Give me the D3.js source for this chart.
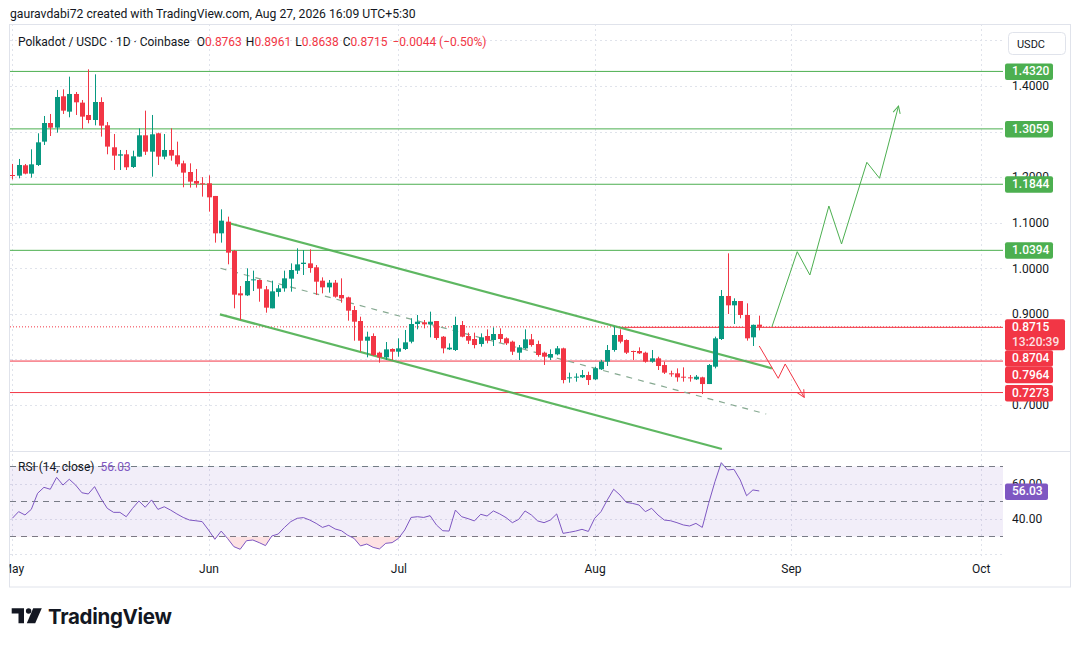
<!DOCTYPE html>
<html lang="en">
<head>
<meta charset="utf-8">
<title>Polkadot / USDC - 1D</title>
<script src="https://cdn.jsdelivr.net/npm/d3@7"></script>
<style>
  body { margin: 0; background: #fff; }
  svg { display: block; font-family: Roboto, "Liberation Sans", sans-serif; }
</style>
</head>
<body>
<svg id="svg" width="1080" height="647"></svg>
<script>

// ---------------------------------------------------- data (daily candles from May 1)
var startDay = Date.UTC(2026, 4, 1);

var open = [1.2047,1.2033,1.2260,1.2077,1.2267,1.2779,1.3188,1.3086,1.3774,1.3437,1.3825,1.3635,1.3364,1.3254,1.3649,1.3137,1.2655,1.2472,1.2501,1.2223,
  1.2450,1.2918,1.2559,1.2962,1.2450,1.2596,1.2479,1.2303,1.2113,1.1916,1.1865,1.1865,1.1587,1.0767,1.1023,1.0380,0.9450,0.9406,0.9735,0.9743,
  0.9538,0.9121,0.9479,0.9560,0.9772,0.9948,1.0094,1.0108,1.0021,0.9728,0.9582,0.9684,0.9414,0.9362,0.9084,0.8843,0.8411,0.8514,0.8148,0.8046,
  0.8229,0.8170,0.8229,0.8389,0.8777,0.8814,0.8770,0.8843,0.8499,0.8221,0.8207,0.8755,0.8514,0.8448,0.8338,0.8514,0.8426,0.8558,0.8463,0.8390,
  0.8148,0.8243,0.8441,0.8338,0.8148,0.8039,0.8112,0.8243,0.7585,0.7600,0.7607,0.7658,0.7563,0.7783,0.7951,0.8207,0.8536,0.8426,0.8185,0.8185,
  0.8148,0.7951,0.8024,0.7877,0.7695,0.7695,0.7621,0.7607,0.7563,0.7607,0.7460,0.7841,0.8448,0.9392,0.9187,0.9282,0.8975,0.8485,0.8763];
var high = [1.2290,1.2399,1.2289,1.2611,1.2962,1.3342,1.3386,1.3913,1.3927,1.4205,1.3869,1.3693,1.4366,1.4256,1.3752,1.3210,1.2947,1.2596,1.2596,1.2581,
  1.3071,1.3459,1.3364,1.2976,1.2947,1.3071,1.2779,1.2362,1.2303,1.2179,1.2000,1.2040,1.1587,1.1294,1.1133,1.0402,0.9611,0.9999,0.9948,0.9757,
  0.9611,0.9728,0.9633,0.9948,1.0108,1.0438,1.0401,1.0416,1.0072,0.9801,0.9743,0.9743,0.9779,0.9377,0.9172,0.8938,0.8609,0.8572,0.8170,0.8382,
  0.8243,0.8463,0.8646,0.8902,0.8975,0.8865,0.9048,0.8843,0.8514,0.8353,0.8938,0.8843,0.8587,0.8587,0.8572,0.8660,0.8704,0.8682,0.8485,0.8412,
  0.8316,0.8660,0.8558,0.8412,0.8170,0.8221,0.8294,0.8258,0.7710,0.7695,0.7768,0.7731,0.7841,0.7987,0.8316,0.8719,0.8660,0.8441,0.8192,0.8265,
  0.8170,0.8207,0.8060,0.7951,0.7753,0.7804,0.7826,0.7658,0.7658,0.7621,0.7899,0.8500,0.9523,1.0328,0.9341,0.9282,0.9231,0.8765,0.8961];
var low = [1.1950,1.1974,1.2062,1.1989,1.2245,1.2706,1.2903,1.2976,1.3386,1.3313,1.3364,1.3057,1.3181,1.3137,1.2889,1.2501,1.2157,1.2157,1.2157,1.2201,
  1.2450,1.2486,1.2011,1.2267,1.2391,1.2362,1.2230,1.1777,1.1770,1.1770,1.1572,1.1243,1.0563,1.0563,1.0087,0.9121,0.8865,0.9391,0.9501,0.9267,
  0.9026,0.9121,0.9377,0.9487,0.9487,0.9874,0.9853,0.9903,0.9414,0.9450,0.9465,0.9355,0.9245,0.8850,0.8411,0.8170,0.8046,0.8075,0.7929,0.7987,
  0.7987,0.8060,0.8207,0.8353,0.8660,0.8682,0.8484,0.8430,0.8134,0.8207,0.8185,0.8485,0.8338,0.8243,0.8280,0.8353,0.8295,0.8368,0.8316,0.8097,
  0.7987,0.8221,0.8280,0.8060,0.7878,0.7987,0.8090,0.7475,0.7490,0.7512,0.7592,0.7439,0.7548,0.7768,0.7856,0.8170,0.8353,0.8119,0.7987,0.8119,
  0.7929,0.7929,0.7768,0.7680,0.7621,0.7512,0.7512,0.7512,0.7548,0.7241,0.7460,0.7804,0.8426,0.8997,0.8777,0.8902,0.8412,0.8295,0.8638];
var close = [1.2040,1.2267,1.2077,1.2281,1.2764,1.3188,1.3086,1.3759,1.3459,1.3825,1.3642,1.3328,1.3254,1.3649,1.3130,1.2670,1.2472,1.2501,1.2216,1.2457,
  1.2918,1.2559,1.2940,1.2450,1.2596,1.2472,1.2281,1.2099,1.1901,1.1857,1.1843,1.1557,1.0767,1.1045,1.0343,0.9421,0.9406,0.9721,0.9757,0.9553,
  0.9136,0.9494,0.9560,0.9779,0.9962,1.0086,1.0123,1.0006,0.9706,0.9582,0.9684,0.9377,0.9340,0.9070,0.8828,0.8411,0.8499,0.8097,0.8046,0.8221,
  0.8170,0.8243,0.8375,0.8777,0.8828,0.8770,0.8828,0.8470,0.8243,0.8258,0.8755,0.8499,0.8412,0.8316,0.8485,0.8412,0.8558,0.8448,0.8353,0.8170,
  0.8265,0.8441,0.8316,0.8097,0.8060,0.8119,0.8243,0.7548,0.7607,0.7622,0.7658,0.7548,0.7805,0.7951,0.8207,0.8536,0.8390,0.8148,0.8163,0.8134,
  0.7951,0.8024,0.7856,0.7710,0.7680,0.7607,0.7600,0.7592,0.7621,0.7460,0.7877,0.8463,0.9392,0.9187,0.9282,0.8975,0.8463,0.8759,0.8715];

// - RSI (14, close), one value per candle
var rsi = [40.4,44.2,42.3,45.5,54.7,58.1,57.0,63.8,59.4,62.7,59.4,55.0,54.3,58.5,51.8,46.1,43.8,43.8,41.3,46.1,
  50.3,46.7,50.9,45.5,47.0,45.1,42.9,40.9,39.4,39.0,38.5,33.7,28.4,33.1,28.9,24.2,22.7,27.6,28.0,26.5,
  24.8,30.3,31.4,35.2,38.5,40.4,40.8,39.4,37.5,35.2,36.4,34.3,33.3,30.7,28.9,24.6,25.7,23.8,22.9,26.1,
  26.5,28.9,33.7,40.9,41.3,40.9,41.9,36.6,33.3,33.1,45.1,41.3,40.2,38.9,42.7,41.7,44.6,42.9,40.8,37.9,
  39.8,44.6,42.3,38.9,37.9,39.4,42.9,31.8,32.4,33.1,34.1,32.9,40.4,44.2,50.9,57.0,53.7,49.5,48.9,48.0,
  44.2,46.1,42.3,39.4,39.0,37.9,36.6,36.0,37.5,35.2,48.9,61.3,72.2,68.0,68.4,62.3,53.3,56.6,56.03];

// - horizontal levels drawn on the chart
var greenLevels = [1.4320, 1.3059, 1.1844, 1.0394];
var redLevels = [0.7964, 0.7273];
var lastPrice = 0.8715;
var breakLevel = 0.8704, breakFromDay = 96;
var countdown = "13:20:39";

// - channel drawn by hand: [day, price] pairs
var channelUpper = [[34.0, 1.1000], [120.0, 0.7805]];
var channelLower = [[32.8, 0.8990], [112.1, 0.6034]];
var channelMid = [[32.9, 1.0000], [119.1, 0.6802]];

// - projected paths
var bullDays = [120, 124, 126, 129, 131, 135, 137, 140];
var bullPrices = [0.8715, 1.0364, 0.9853, 1.1367, 1.0533, 1.2326, 1.1975, 1.3561];
var bearDays = [118, 121, 122.1, 125.1];
var bearPrices = [0.8295, 0.7586, 0.7900, 0.7169];

// - axes (1.3000 and 0.8000 sit fully under the level tags, so they are not printed)
var priceTicks = [0.6, 0.7, 0.8, 0.9, 1.0, 1.1, 1.2, 1.3, 1.4, 1.5];
var priceLabels = [0.7, 0.9, 1.0, 1.1, 1.2, 1.4];
var rsiTicks = [40, 60];
var rsiBands = [70, 50, 30];
var monthTicks = [Date.UTC(2026,4,1), Date.UTC(2026,5,1), Date.UTC(2026,6,1), Date.UTC(2026,7,1), Date.UTC(2026,8,1), Date.UTC(2026,9,1)];

// ---------------------------------------------------- layout
var L = 10, R = 1003, mainTop = 24, mainBot = 451, rsiBot = 556, frameBot = 587;
var GREEN = "#089981", RED = "#f23645", LINE_GREEN = "#4caf50", PURPLE = "#7e57c2", TXT = "#131722", GRID = "#e0e3eb";

var svg = d3.select("svg#svg");

function dayDate(d) { return new Date(startDay + d * 864e5); }

var x = d3.scaleUtc()
    .domain([new Date(Date.UTC(2026, 4, 1)), new Date(Date.UTC(2026, 9, 1))])
    .range([12.3, 980.8]);
var y = d3.scaleLinear().domain([0.7, 1.4]).range([405, 86]);
var yr = d3.scaleLinear().domain([30, 70]).range([536.5, 466.5]);

var defs = svg.append("defs");
defs.append("clipPath").attr("id", "clipMain").append("rect")
    .attr("x", L).attr("y", mainTop).attr("width", R - L).attr("height", mainBot - mainTop);
defs.append("clipPath").attr("id", "clipRsi").append("rect")
    .attr("x", L).attr("y", mainBot).attr("width", R - L).attr("height", rsiBot - mainBot);
defs.append("clipPath").attr("id", "clipLow").append("rect")
    .attr("x", L).attr("y", yr(30)).attr("width", R - L).attr("height", rsiBot - yr(30));
defs.append("clipPath").attr("id", "clipHigh").append("rect")
    .attr("x", L).attr("y", mainBot).attr("width", R - L).attr("height", yr(70) - mainBot);
defs.append("clipPath").attr("id", "clipAxis").append("rect")
    .attr("x", 9.5).attr("y", rsiBot).attr("width", 1060).attr("height", frameBot - rsiBot);

[["arrG", LINE_GREEN], ["arrR", RED]].forEach(function (m) {
    defs.append("marker").attr("id", m[0]).attr("viewBox", "0 0 10 10")
        .attr("refX", 9).attr("refY", 5).attr("markerWidth", 9).attr("markerHeight", 9)
        .attr("markerUnits", "userSpaceOnUse").attr("orient", "auto")
        .append("path").attr("d", "M1,1 L9,5 L1,9").attr("fill", "none").attr("stroke", m[1]).attr("stroke-width", 1.1);
});

// - header
svg.append("text").attr("x", 10).attr("y", 18).attr("font-size", 12.2).attr("fill", TXT)
    .text("gauravdabi72 created with TradingView.com, Aug 27, 2026 16:09 UTC+5:30");

// - frame
svg.append("rect").attr("x", 9.5).attr("y", mainTop + 0.5).attr("width", 1061).attr("height", frameBot - mainTop - 0.5)
    .attr("fill", "none").attr("stroke", GRID);
svg.append("line").attr("x1", 9.5).attr("x2", 1070.5).attr("y1", mainBot + 0.5).attr("y2", mainBot + 0.5).attr("stroke", GRID);

// ---------------------------------------------------- grid
var grid = svg.append("g");
grid.selectAll("line.h").data(priceTicks).enter().append("line")
    .attr("x1", L).attr("x2", R).attr("y1", function (d) { return Math.round(y(d)) + 0.5; })
    .attr("y2", function (d) { return Math.round(y(d)) + 0.5; })
    .attr("stroke", GRID).attr("stroke-dasharray", "2,3")
    .attr("clip-path", "url(#clipMain)");
grid.selectAll("line.r").data([20, 40, 60, 80]).enter().append("line")
    .attr("x1", L).attr("x2", R).attr("y1", function (d) { return Math.round(yr(d)) + 0.5; })
    .attr("y2", function (d) { return Math.round(yr(d)) + 0.5; })
    .attr("stroke", GRID).attr("stroke-dasharray", "2,3")
    .attr("clip-path", "url(#clipRsi)");
grid.selectAll("line.v").data(monthTicks).enter().append("line")
    .attr("x1", function (d) { return Math.round(x(new Date(d))) + 0.5; })
    .attr("x2", function (d) { return Math.round(x(new Date(d))) + 0.5; })
    .attr("y1", mainTop).attr("y2", rsiBot)
    .attr("stroke", GRID).attr("stroke-dasharray", "2,3");

// ---------------------------------------------------- main pane drawings
var main = svg.append("g").attr("clip-path", "url(#clipMain)");

main.selectAll("line.lvlg").data(greenLevels).enter().append("line")
    .attr("x1", L).attr("x2", R).attr("y1", function (d) { return y(d); }).attr("y2", function (d) { return y(d); })
    .attr("stroke", LINE_GREEN).attr("stroke-width", 1);
main.selectAll("line.lvlr").data(redLevels).enter().append("line")
    .attr("x1", L).attr("x2", R).attr("y1", function (d) { return y(d); }).attr("y2", function (d) { return y(d); })
    .attr("stroke", RED).attr("stroke-width", 1);
main.append("line")
    .attr("x1", x(dayDate(breakFromDay))).attr("x2", R).attr("y1", y(breakLevel)).attr("y2", y(breakLevel))
    .attr("stroke", RED).attr("stroke-width", 1);
main.append("line")
    .attr("x1", L).attr("x2", R).attr("y1", y(lastPrice)).attr("y2", y(lastPrice))
    .attr("stroke", RED).attr("stroke-width", 1).attr("stroke-dasharray", "1,2");

var seg = d3.line().x(function (p) { return x(dayDate(p[0])); }).y(function (p) { return y(p[1]); });
main.append("path").attr("d", seg(channelMid)).attr("fill", "none")
    .attr("stroke", "#86a991").attr("stroke-width", 1.2).attr("stroke-dasharray", "6,6");
[channelUpper, channelLower].forEach(function (c) {
    main.append("path").attr("d", seg(c)).attr("fill", "none")
        .attr("stroke", LINE_GREEN).attr("stroke-width", 2.2).attr("opacity", 0.9);
});

// - candles
var candles = main.append("g");
close.forEach(function (c, i) {
    var xc = Math.round(x(dayDate(i))) + 0.5;
    var col = c >= open[i] ? GREEN : RED;
    candles.append("line").attr("x1", xc).attr("x2", xc)
        .attr("y1", y(high[i])).attr("y2", y(low[i])).attr("stroke", col).attr("stroke-width", 1);
    var top = y(Math.max(open[i], c)), bot = y(Math.min(open[i], c));
    candles.append("rect").attr("x", xc - 2.5).attr("width", 5)
        .attr("y", top).attr("height", Math.max(1, bot - top)).attr("fill", col);
});

// - projections
var pl = d3.line().x(function (d) { return x(dayDate(d[0])); }).y(function (d) { return y(d[1]); });
main.append("path").attr("d", pl(d3.zip(bullDays, bullPrices))).attr("fill", "none")
    .attr("stroke", LINE_GREEN).attr("stroke-width", 1).attr("marker-end", "url(#arrG)");
main.append("path").attr("d", pl(d3.zip(bearDays, bearPrices))).attr("fill", "none")
    .attr("stroke", RED).attr("stroke-width", 1).attr("marker-end", "url(#arrR)");

// - legend
var leg = svg.append("text").attr("x", 18).attr("y", 46).attr("font-size", 12).attr("fill", TXT);
leg.append("tspan").text("Polkadot / USDC \u00b7 1D \u00b7 Coinbase ");
[["O", open], ["H", high], ["L", low], ["C", close]].forEach(function (k) {
    leg.append("tspan").attr("dx", 4).text(k[0]);
    leg.append("tspan").attr("fill", RED).text(k[1][k[1].length - 1].toFixed(4));
});
var chg = close[close.length - 1] - close[close.length - 2];
leg.append("tspan").attr("dx", 5).attr("fill", RED)
    .text("\u2212" + Math.abs(chg).toFixed(4) + " (\u2212" + Math.abs(chg / close[close.length - 2] * 100).toFixed(2) + "%)");

// ---------------------------------------------------- RSI pane
var rp = svg.append("g").attr("clip-path", "url(#clipRsi)");
rp.append("rect").attr("x", L).attr("width", R - L).attr("y", yr(70)).attr("height", yr(30) - yr(70))
    .attr("fill", PURPLE).attr("opacity", 0.1);
rp.selectAll("line.band").data(rsiBands).enter().append("line")
    .attr("x1", L).attr("x2", R).attr("y1", function (d) { return yr(d); }).attr("y2", function (d) { return yr(d); })
    .attr("stroke", "#787b86").attr("stroke-dasharray", "6,5").attr("stroke-width", 1);

var rx = function (d, i) { return x(dayDate(i)); };
rp.append("g").attr("clip-path", "url(#clipLow)").append("path")
    .attr("d", d3.area().x(rx).y0(yr(30)).y1(function (d) { return yr(d); })(rsi))
    .attr("fill", RED).attr("opacity", 0.15);
rp.append("g").attr("clip-path", "url(#clipHigh)").append("path")
    .attr("d", d3.area().x(rx).y0(yr(70)).y1(function (d) { return yr(d); })(rsi))
    .attr("fill", GREEN).attr("opacity", 0.2);
rp.append("path").attr("d", d3.line().x(rx).y(function (d) { return yr(d); })(rsi))
    .attr("fill", "none").attr("stroke", PURPLE).attr("stroke-width", 1);

var rl = svg.append("text").attr("x", 18).attr("y", yr(70) + 4.5).attr("font-size", 12).attr("fill", TXT);
rl.append("tspan").text("RSI (14, close)");
rl.append("tspan").attr("dx", 6).attr("fill", PURPLE).text(rsi[rsi.length - 1].toFixed(2));

// ---------------------------------------------------- axes
var yAxis = d3.axisRight(y).tickValues(priceLabels)
    .tickFormat(d3.format(".4f")).tickSize(0).tickPadding(0);
svg.append("g").attr("transform", "translate(1012,0)").call(yAxis)
    .call(function (g) { g.select(".domain").remove(); })
    .selectAll("text").attr("font-size", 12).attr("font-family", "Roboto").attr("fill", TXT);

var rAxis = d3.axisRight(yr).tickValues(rsiTicks).tickFormat(d3.format(".2f")).tickSize(0).tickPadding(0);
svg.append("g").attr("transform", "translate(1012,0)").call(rAxis)
    .call(function (g) { g.select(".domain").remove(); })
    .selectAll("text").attr("font-size", 12).attr("font-family", "Roboto").attr("fill", TXT);

var xAxis = d3.axisBottom(x).tickValues(monthTicks.map(function (d) { return new Date(d); }))
    .tickFormat(d3.utcFormat("%b")).tickSize(0).tickPadding(0);
svg.append("g").attr("clip-path", "url(#clipAxis)").append("g")
    .attr("transform", "translate(0,564)").call(xAxis)
    .call(function (g) { g.select(".domain").remove(); })
    .selectAll("text").attr("font-size", 12).attr("font-family", "Roboto").attr("fill", TXT);

// - USDC button
svg.append("rect").attr("x", 1008.5).attr("y", 32.5).attr("width", 57).attr("height", 22).attr("rx", 4)
    .attr("fill", "#fff").attr("stroke", GRID);
svg.append("text").attr("x", 1031).attr("y", 48).attr("font-size", 11).attr("text-anchor", "middle")
    .attr("fill", TXT).text("USDC");

// ---------------------------------------------------- price labels on the axis
function axisTag(yc, h, w, col, lines) {
    var g = svg.append("g");
    g.append("rect").attr("x", 1005).attr("y", yc).attr("width", w).attr("height", h).attr("rx", 2).attr("fill", col);
    lines.forEach(function (t, k) {
        g.append("text").attr("x", 1012).attr("y", yc + 12 + k * 14.5).attr("font-size", 12)
            .attr("font-weight", 500).attr("fill", "#fff").attr("opacity", k ? 0.85 : 1).text(t);
    });
}
greenLevels.forEach(function (v) { axisTag(y(v) - 8, 16.5, 48, LINE_GREEN, [v.toFixed(4)]); });

// - red tags get stacked so that they do not overlap
var redTags = [{ v: lastPrice, h: 31, w: 60, lines: [lastPrice.toFixed(4), countdown] },
    { v: breakLevel, h: 16.5, w: 48, lines: [breakLevel.toFixed(4)] }]
    .concat(redLevels.map(function (v) { return { v: v, h: 16.5, w: 48, lines: [v.toFixed(4)] }; }));
var prevBottom = -1e9;
redTags.sort(function (a, b) { return b.v - a.v; }).forEach(function (t) {
    var top = Math.max(y(t.v) - 7.5, prevBottom);
    axisTag(top, t.h, t.w, RED, t.lines);
    prevBottom = top + t.h;
});

// - RSI value tag
svg.append("rect").attr("x", 1005).attr("y", yr(rsi[rsi.length - 1]) - 7.5).attr("width", 43).attr("height", 16.5)
    .attr("rx", 2).attr("fill", PURPLE);
svg.append("text").attr("x", 1012).attr("y", yr(rsi[rsi.length - 1]) + 4.5).attr("font-size", 12)
    .attr("font-weight", 500).attr("fill", "#fff").text(rsi[rsi.length - 1].toFixed(2));

// ---------------------------------------------------- TradingView logo
var logo = svg.append("g").attr("fill", TXT);
logo.append("path").attr("d", "M11.7,608.3 H24 V623.3 H18.5 V613.6 H11.7 Z");
logo.append("circle").attr("cx", 28.6).attr("cy", 611).attr("r", 2.7);
logo.append("path").attr("d", "M33.2,608.3 H41.8 L35.2,623.3 H26.8 Z");
svg.append("text").attr("x", 48).attr("y", 624).attr("font-size", 20.5).attr("font-weight", 700)
    .attr("font-family", "Inter, Roboto, sans-serif").attr("fill", TXT).attr("letter-spacing", -0.3).text("TradingView");

</script>
</body>
</html>
